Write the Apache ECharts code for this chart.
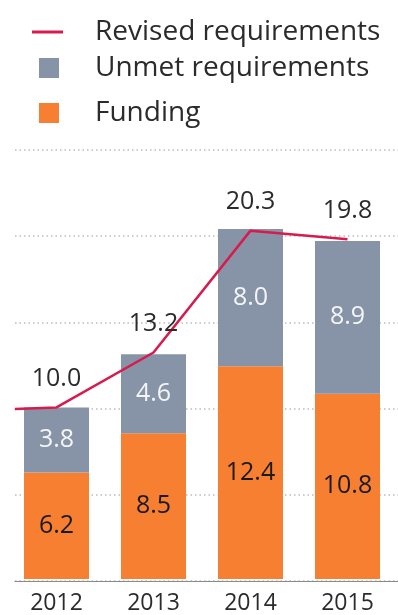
<!DOCTYPE html>
<html>
<head>
<meta charset="utf-8">
<script src="https://cdn.jsdelivr.net/npm/echarts@6/dist/echarts.min.js"></script>
<style>
  html, body { margin: 0; padding: 0; background: #ffffff; }
  #chart { width: 398px; height: 615px; }
</style>
</head>
<body>
<div id="chart"></div>
<script>
// Funding vs. requirements, US$ billion
const years = ['2012', '2013', '2014', '2015'];
const funding = [6.2, 8.5, 12.4, 10.8];
const unmet = [3.8, 4.6, 8.0, 8.9];
const revised = [10.0, 13.2, 20.3, 19.8];
// the requirements line enters from the left edge just below the 2012 value
const revisedLeadIn = [-0.43, 9.9];
const yTicks = { min: 0, max: 25, interval: 5 };

const FONT = '"Open Sans", "Noto Sans", sans-serif';
const TEXT = '#2b2b2b';
const ORANGE = '#F77F32';
const SLATE = '#8794A8';
const CRIMSON = '#D81B4D';

const linePoints = [{ value: revisedLeadIn, label: { show: false } }].concat(
  revised.map((v, i) => ({ value: [i, v] }))
);

const legendText = pad => ({ fontSize: 28, color: TEXT, fontFamily: FONT, padding: [0, 0, 0, pad] });

const chart = echarts.init(document.getElementById('chart'), null, { renderer: 'canvas' });

chart.setOption({
  animation: false,
  textStyle: { fontFamily: FONT },
  legend: [
    {
      data: [{ name: 'Revised requirements', icon: 'rect' }],
      left: 32, top: 18, padding: 0,
      itemWidth: 31, itemHeight: 3,
      textStyle: legendText(27)
    },
    {
      data: [{ name: 'Unmet requirements', icon: 'rect' }],
      left: 39, top: 54, padding: 0,
      itemWidth: 20, itemHeight: 20,
      textStyle: legendText(31)
    },
    {
      data: [{ name: 'Funding', icon: 'rect' }],
      left: 39, top: 99, padding: 0,
      itemWidth: 20, itemHeight: 20,
      textStyle: legendText(31)
    }
  ],
  grid: [
    { left: 8, right: 2, top: 150, bottom: 34, containLabel: false },
    { left: 15, right: 0, top: 150, bottom: 34, containLabel: false }
  ],
  xAxis: [
    {
      type: 'category', gridIndex: 0, data: years,
      axisLine: { show: false }, axisTick: { show: false },
      axisLabel: { fontSize: 23, color: TEXT, fontFamily: FONT, margin: 13 }
    },
    {
      type: 'value', gridIndex: 1, min: 0, max: 1,
      axisLine: { show: true, onZero: false, lineStyle: { color: '#8a8a8a', width: 1 } },
      axisTick: { show: false }, axisLabel: { show: false }, splitLine: { show: false }
    },
    {
      type: 'value', gridIndex: 0, min: -0.5, max: 3.5, show: false
    }
  ],
  yAxis: [
    {
      type: 'value', gridIndex: 0, min: yTicks.min, max: yTicks.max, interval: yTicks.interval,
      show: false, splitLine: { show: false }
    },
    {
      type: 'value', gridIndex: 1, min: yTicks.min, max: yTicks.max, interval: yTicks.interval,
      axisLine: { show: false }, axisTick: { show: false }, axisLabel: { show: false },
      splitLine: { show: true, lineStyle: { color: '#bdbdbd', width: 1.5, type: [1.5, 3] } }
    }
  ],
  series: [
    {
      name: 'Funding', type: 'bar', stack: 'total',
      xAxisIndex: 0, yAxisIndex: 0,
      data: funding, barWidth: 65,
      itemStyle: { color: ORANGE },
      label: {
        show: true, position: 'inside', fontSize: 25, color: '#1a1a1a', fontFamily: FONT,
        formatter: p => p.value.toFixed(1)
      }
    },
    {
      name: 'Unmet requirements', type: 'bar', stack: 'total',
      xAxisIndex: 0, yAxisIndex: 0,
      data: unmet, barWidth: 65,
      itemStyle: { color: SLATE },
      label: {
        show: true, position: 'inside', fontSize: 25, color: '#f4f5f7', fontFamily: FONT,
        formatter: p => p.value.toFixed(1)
      }
    },
    {
      name: 'Revised requirements', type: 'line',
      xAxisIndex: 2, yAxisIndex: 0,
      data: linePoints,
      showSymbol: true, symbol: 'circle', symbolSize: 0,
      lineStyle: { color: CRIMSON, width: 2.5 },
      itemStyle: { color: CRIMSON },
      z: 5,
      label: {
        show: true, position: 'top', distance: 16, fontSize: 25, color: TEXT, fontFamily: FONT,
        formatter: p => p.value[1].toFixed(1)
      }
    }
  ]
});
</script>
</body>
</html>
